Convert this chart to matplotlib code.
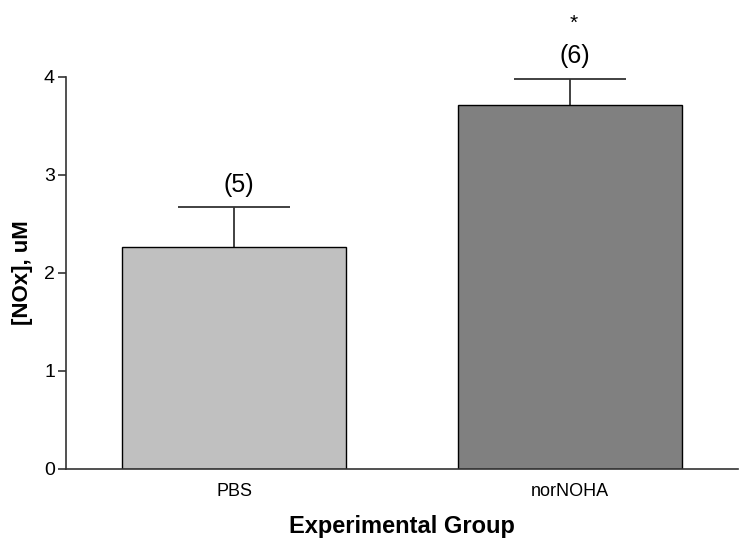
import matplotlib.pyplot as plt
import numpy as np

plt.rcParams['font.family'] = ['Liberation Sans', 'DejaVu Sans']

groups = ['PBS', 'norNOHA']
means = [2.27, 3.71]
sems = [0.40, 0.27]
counts = ['(5)', '(6)']
bar_colors = ['#c0c0c0', '#808080']

fig = plt.figure(figsize=(7.5, 5.48), dpi=100)
ax = fig.add_axes([0.088, 0.1442, 0.896, 0.7153])

x = np.arange(len(groups))
means = np.array(means)
sems = np.array(sems)
ax.bar(x, means, width=0.667, color=bar_colors, edgecolor='black', linewidth=1.0, zorder=2)

# upper error bars only (stem + cap)
ax.vlines(x, means, means + sems, color='#333333', linewidth=1.3, zorder=1)
ax.hlines(means + sems, x - 0.167, x + 0.167, color='#333333', linewidth=1.3, zorder=1)

# sample sizes above the error bars
for xi, m, s, c in zip(x, means, sems, counts):
    ax.text(xi + 0.015, m + s + 0.23, c, ha='center', va='center', fontsize=18, clip_on=False)
ax.text(1.01, 4.55, '*', ha='center', va='center', fontsize=15, clip_on=False)

ax.set_xlim(-0.5, 1.5)
ax.set_ylim(0, 4)
ax.set_yticks([0, 1, 2, 3, 4])
ax.set_xticks(x)
ax.set_xticklabels(groups, fontsize=13)
ax.tick_params(axis='x', length=0, pad=10)
ax.tick_params(axis='y', labelsize=14, length=6, width=1.2, pad=2, color='#333333')
ax.spines['top'].set_visible(False)
ax.spines['right'].set_visible(False)
ax.spines['left'].set_linewidth(1.2)
ax.spines['bottom'].set_linewidth(1.2)
ax.spines['left'].set_color('#333333')
ax.spines['bottom'].set_color('#333333')
ax.set_ylabel('[NOx], uM', fontsize=16, fontweight='bold')
ax.yaxis.set_label_coords(-0.049, 0.5)
ax.set_xlabel('Experimental Group', fontsize=17, fontweight='bold', labelpad=11)

fig.savefig('out.png', dpi=100)
